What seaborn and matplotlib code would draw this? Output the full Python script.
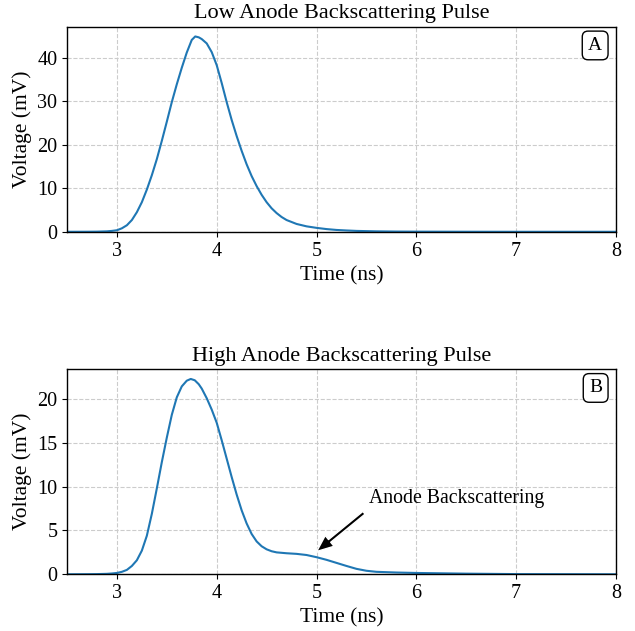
import matplotlib
matplotlib.use("Agg")
import matplotlib.pyplot as plt
import seaborn as sns

# pulse (time in ns, voltage in mV)
t_low = [2.5, 2.7, 2.8, 2.9, 2.95, 3.0, 3.05, 3.1, 3.15, 3.2, 3.25, 3.3, 3.35,
         3.4, 3.45, 3.5, 3.55, 3.6, 3.65, 3.7, 3.75, 3.785, 3.82, 3.85, 3.9,
         3.95, 4.0, 4.05, 4.1, 4.15, 4.2, 4.25, 4.3, 4.35, 4.4, 4.45, 4.5,
         4.55, 4.6, 4.65, 4.7, 4.8, 4.9, 5.0, 5.1, 5.2, 5.3, 5.4, 5.6, 5.8,
         6.0, 6.5, 7.0, 8.0]
v_low = [0.0, 0.01, 0.03, 0.1, 0.2, 0.35, 0.8, 1.5, 2.7, 4.5, 6.8, 9.7, 13.0,
         16.7, 20.9, 25.3, 29.8, 33.9, 37.7, 41.2, 44.1, 44.9, 44.7, 44.3, 43.3,
         41.3, 38.3, 34.2, 29.8, 25.7, 22.0, 18.6, 15.5, 12.8, 10.5, 8.5, 6.8,
         5.4, 4.3, 3.4, 2.7, 1.8, 1.25, 0.9, 0.62, 0.42, 0.3, 0.2, 0.1, 0.05,
         0.03, 0.01, 0.0, 0.0]

t_high = [2.5, 2.7, 2.8, 2.9, 2.95, 3.0, 3.05, 3.1, 3.15, 3.2, 3.25, 3.3, 3.35,
          3.4, 3.45, 3.5, 3.55, 3.6, 3.65, 3.7, 3.74, 3.78, 3.82, 3.85, 3.9,
          3.95, 4.0, 4.05, 4.1, 4.15, 4.2, 4.25, 4.3, 4.35, 4.4, 4.45, 4.5,
          4.55, 4.6, 4.7, 4.8, 4.9, 5.0, 5.1, 5.2, 5.3, 5.4, 5.5, 5.6, 5.8,
          6.0, 6.5, 7.0, 8.0]
v_high = [0.0, 0.01, 0.02, 0.05, 0.09, 0.15, 0.28, 0.5, 0.95, 1.6, 2.7, 4.4, 6.9,
          9.8, 12.8, 15.6, 18.2, 20.2, 21.45, 22.1, 22.3, 22.15, 21.7, 21.2, 20.1,
          18.8, 17.3, 15.3, 13.2, 11.1, 9.1, 7.3, 5.8, 4.6, 3.75, 3.2, 2.85,
          2.63, 2.5, 2.4, 2.33, 2.2, 1.95, 1.65, 1.3, 0.95, 0.62, 0.4, 0.28, 0.2,
          0.15, 0.07, 0.02, 0.0]

titles = ["Low Anode Backscattering Pulse", "High Anode Backscattering Pulse"]
panel_tags = ["A", "B"]

sns.set_style("whitegrid", {
    "grid.linestyle": "--",
    "grid.color": "#cccccc",
    "axes.edgecolor": "black",
    "axes.labelcolor": "black",
    "text.color": "black",
    "xtick.bottom": True,
    "ytick.left": True,
    "xtick.color": "black",
    "ytick.color": "black",
})
plt.rcParams["font.family"] = "Liberation Serif"
plt.rcParams["font.size"] = 14

fig, axes = plt.subplots(2, 1, figsize=(6.35, 6.31), dpi=100)
fig.subplots_adjust(left=0.1055, right=0.970, top=0.9577, bottom=0.0899, hspace=0.67)

for ax, t, v, title, tag in zip(axes, [t_low, t_high], [v_low, v_high], titles, panel_tags):
    sns.lineplot(x=t, y=v, ax=ax, color="#1f77b4", linewidth=1.5)
    ax.set_xlim(2.5, 8)
    ax.set_ylim(bottom=0, top=max(v) * 1.05)
    ax.set_title(title, fontsize=16, color="black")
    ax.set_xlabel("Time (ns)", fontsize=15.5)
    ax.set_ylabel("Voltage (mV)", fontsize=15.5)
    ax.tick_params(labelsize=14.5, length=3.5, width=0.8)
    for s in ax.spines.values():
        s.set_linewidth(1.0)
    ax.text(0.975, 0.95, tag, transform=ax.transAxes, ha="right", va="top", fontsize=14,
            bbox=dict(boxstyle="round,pad=0.3", facecolor="white", edgecolor="black"))

axes[1].annotate("Anode Backscattering", xy=(4.98, 2.4), xytext=(5.53, 8.1),
                 fontsize=14.2, color="black",
                 arrowprops=dict(facecolor="black", shrink=0.04, width=2.5,
                                 headwidth=10, headlength=12))

fig.savefig("out.png", dpi=100)
